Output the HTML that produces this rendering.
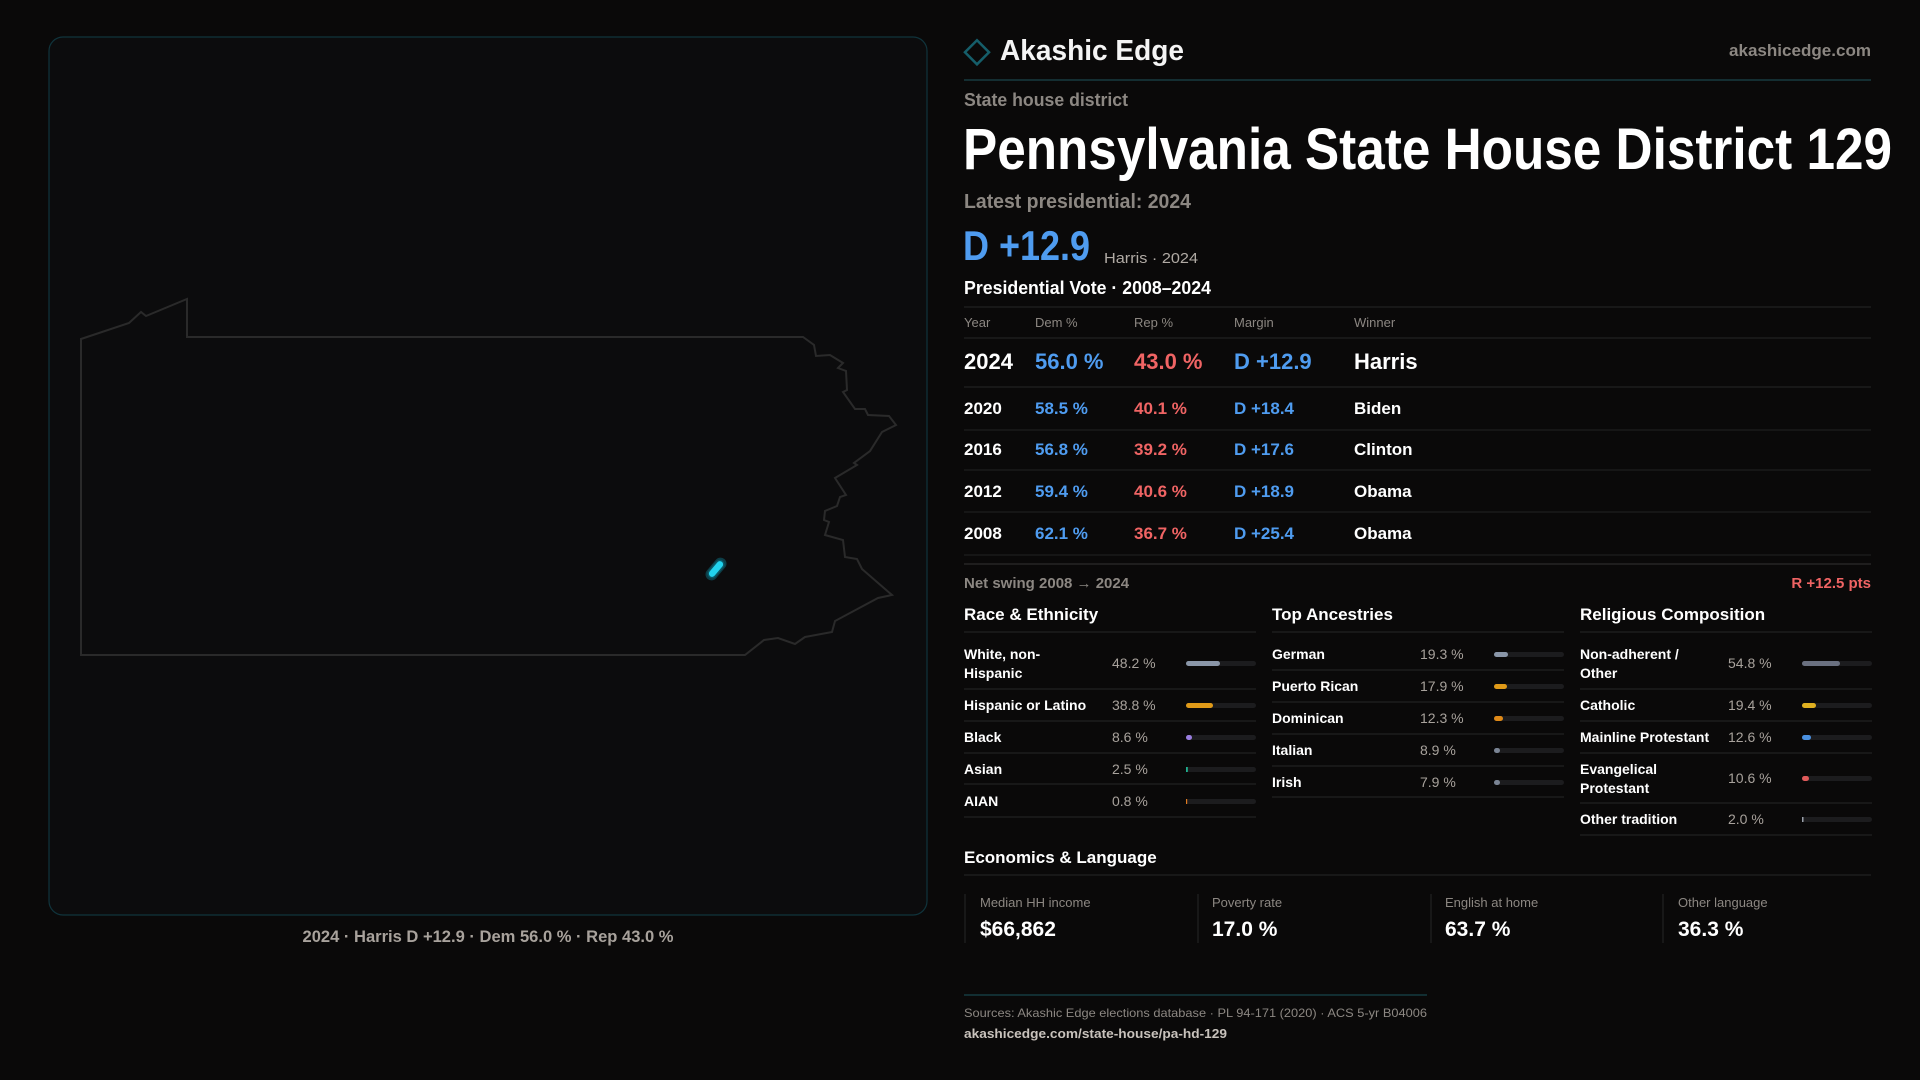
<!DOCTYPE html>
<html><head><meta charset="utf-8"><style>
html,body{margin:0;padding:0;background:#0a0909;}
svg{display:block}
text{font-family:"Liberation Sans",sans-serif;}
</style></head><body>
<svg width="1920" height="1080" viewBox="0 0 1920 1080" xmlns="http://www.w3.org/2000/svg">
<rect width="1920" height="1080" fill="#0a0909"/>
<rect x="49" y="37" width="878" height="878" rx="14" fill="#0c0c0d" stroke="#10343c" stroke-width="1.2"/>
<polygon fill="none" stroke="#2a2a2a" stroke-width="2" points="81,339 129,323 141,312 146,316 187,299 187,337 803,337 814,345 816,356 830,355 843,363 838,368 846,371 847,390 843,392 855,409 865,409 868,415 889,416 896,425 882,432 870,451 854,463 857,465 835,478 846,495 840,497 837,506 825,511 824,520 829,522 825,535 843,540 845,557 857,559 862,569 892,595 878,598 835,621 832,632 805,637 795,644 778,638 764,640 745,655 81,655"/>
<g transform="translate(716,569) rotate(-50)">
<rect x="-13" y="-6" width="26" height="12" rx="6" fill="#0e4a55" opacity="0.8"/>
<rect x="-10" y="-4" width="20" height="8" rx="4" fill="#22d3ee" stroke="#0b5866" stroke-width="1.5"/>
</g>
<text x="488" y="942" text-anchor="middle" font-size="17" font-weight="bold" fill="#a8a29c" textLength="371" lengthAdjust="spacingAndGlyphs">2024 · Harris D +12.9 · Dem 56.0 % · Rep 43.0 %</text>

<rect x="968" y="44" width="17" height="17" fill="none" stroke="#155e6a" stroke-width="2.5" transform="rotate(45 977 53)"/>
<text x="1000" y="60" font-size="29" font-weight="bold" fill="#f4f4f4" textLength="184" lengthAdjust="spacingAndGlyphs">Akashic Edge</text>
<text x="1871" y="56" text-anchor="end" font-size="17" font-weight="bold" fill="#8c8782" textLength="142" lengthAdjust="spacingAndGlyphs">akashicedge.com</text>
<line x1="964" y1="80" x2="1871" y2="80" stroke="#183a40" stroke-width="1.5"/>
<text x="964" y="106" font-size="18" font-weight="bold" fill="#8c8782" textLength="164" lengthAdjust="spacingAndGlyphs">State house district</text>
<text x="963" y="169" font-size="58" font-weight="bold" fill="#ffffff" textLength="929" lengthAdjust="spacingAndGlyphs">Pennsylvania State House District 129</text>
<text x="964" y="208" font-size="20" font-weight="bold" fill="#8c8782" textLength="227" lengthAdjust="spacingAndGlyphs">Latest presidential: 2024</text>
<text x="963" y="260" font-size="42" font-weight="bold" fill="#4f9cf0" textLength="127" lengthAdjust="spacingAndGlyphs">D +12.9</text>
<text x="1104" y="263" font-size="15" fill="#b0aaa4" textLength="94" lengthAdjust="spacingAndGlyphs">Harris · 2024</text>
<text x="964" y="294" font-size="18" font-weight="bold" fill="#ffffff" textLength="247" lengthAdjust="spacingAndGlyphs">Presidential Vote · 2008–2024</text>
<line x1="964" y1="307" x2="1871" y2="307" stroke="#1d1d1d" stroke-width="1.5"/>
<g font-size="13" fill="#8c8782">
<text x="964" y="327">Year</text><text x="1035" y="327">Dem %</text><text x="1134" y="327">Rep %</text><text x="1234" y="327">Margin</text><text x="1354" y="327">Winner</text>
</g>
<line x1="964" y1="338" x2="1871" y2="338" stroke="#1d1d1d" stroke-width="1.5"/>
<g font-size="22" font-weight="bold">
<text x="964" y="369" fill="#fff">2024</text><text x="1035" y="369" fill="#4f9cf0">56.0 %</text><text x="1134" y="369" fill="#f06464">43.0 %</text><text x="1234" y="369" fill="#4f9cf0">D +12.9</text><text x="1354" y="369" fill="#fff">Harris</text>
</g>
<line x1="964" y1="387" x2="1871" y2="387" stroke="#1d1d1d" stroke-width="1.5"/>
<g font-size="17" font-weight="bold">
<text x="964" y="414" fill="#fff">2020</text><text x="1035" y="414" fill="#4f9cf0">58.5 %</text><text x="1134" y="414" fill="#f06464">40.1 %</text><text x="1234" y="414" fill="#4f9cf0">D +18.4</text><text x="1354" y="414" fill="#fff">Biden</text>
<text x="964" y="455" fill="#fff">2016</text><text x="1035" y="455" fill="#4f9cf0">56.8 %</text><text x="1134" y="455" fill="#f06464">39.2 %</text><text x="1234" y="455" fill="#4f9cf0">D +17.6</text><text x="1354" y="455" fill="#fff">Clinton</text>
<text x="964" y="497" fill="#fff">2012</text><text x="1035" y="497" fill="#4f9cf0">59.4 %</text><text x="1134" y="497" fill="#f06464">40.6 %</text><text x="1234" y="497" fill="#4f9cf0">D +18.9</text><text x="1354" y="497" fill="#fff">Obama</text>
<text x="964" y="539" fill="#fff">2008</text><text x="1035" y="539" fill="#4f9cf0">62.1 %</text><text x="1134" y="539" fill="#f06464">36.7 %</text><text x="1234" y="539" fill="#4f9cf0">D +25.4</text><text x="1354" y="539" fill="#fff">Obama</text>
</g>
<g stroke="#1a1a1a" stroke-width="1.5">
<line x1="964" y1="430" x2="1871" y2="430"/><line x1="964" y1="470" x2="1871" y2="470"/><line x1="964" y1="512" x2="1871" y2="512"/><line x1="964" y1="555" x2="1871" y2="555"/>
</g>
<line x1="964" y1="564" x2="1871" y2="564" stroke="#262626" stroke-width="1.5"/>
<text x="964" y="588" font-size="15" font-weight="bold" fill="#8c8782">Net swing 2008 → 2024</text>
<text x="1871" y="588" text-anchor="end" font-size="15" font-weight="bold" fill="#f06464">R +12.5 pts</text>

<g font-size="17" font-weight="bold" fill="#fff">
<text x="964" y="620">Race &amp; Ethnicity</text>
<text x="1272" y="620">Top Ancestries</text>
<text x="1580" y="620">Religious Composition</text>
</g>
<g stroke="#1d1d1d" stroke-width="1.5">
<line x1="964" y1="632" x2="1256" y2="632"/><line x1="1272" y1="632" x2="1564" y2="632"/><line x1="1580" y1="632" x2="1872" y2="632"/>
<line x1="964" y1="689" x2="1256" y2="689"/><line x1="964" y1="721" x2="1256" y2="721"/><line x1="964" y1="753" x2="1256" y2="753"/><line x1="964" y1="784" x2="1256" y2="784"/><line x1="964" y1="817" x2="1256" y2="817"/>
<line x1="1272" y1="670" x2="1564" y2="670"/><line x1="1272" y1="702" x2="1564" y2="702"/><line x1="1272" y1="734" x2="1564" y2="734"/><line x1="1272" y1="766" x2="1564" y2="766"/><line x1="1272" y1="797" x2="1564" y2="797"/>
<line x1="1580" y1="689" x2="1872" y2="689"/><line x1="1580" y1="721" x2="1872" y2="721"/><line x1="1580" y1="753" x2="1872" y2="753"/><line x1="1580" y1="803" x2="1872" y2="803"/><line x1="1580" y1="835" x2="1872" y2="835"/>
</g>
<g font-size="14" font-weight="bold" fill="#fff">
<text x="964" y="659">White, non-</text><text x="964" y="678">Hispanic</text>
<text x="964" y="710">Hispanic or Latino</text><text x="964" y="742">Black</text><text x="964" y="774">Asian</text><text x="964" y="806">AIAN</text>
<text x="1272" y="659">German</text><text x="1272" y="691">Puerto Rican</text><text x="1272" y="723">Dominican</text><text x="1272" y="755">Italian</text><text x="1272" y="787">Irish</text>
<text x="1580" y="659">Non-adherent /</text><text x="1580" y="678">Other</text>
<text x="1580" y="710">Catholic</text><text x="1580" y="742">Mainline Protestant</text>
<text x="1580" y="774">Evangelical</text><text x="1580" y="793">Protestant</text>
<text x="1580" y="824">Other tradition</text>
</g>
<g font-size="14" fill="#a8a29c">
<text x="1112" y="668">48.2 %</text><text x="1112" y="710">38.8 %</text><text x="1112" y="742">8.6 %</text><text x="1112" y="774">2.5 %</text><text x="1112" y="806">0.8 %</text>
<text x="1420" y="659">19.3 %</text><text x="1420" y="691">17.9 %</text><text x="1420" y="723">12.3 %</text><text x="1420" y="755">8.9 %</text><text x="1420" y="787">7.9 %</text>
<text x="1728" y="668">54.8 %</text><text x="1728" y="710">19.4 %</text><text x="1728" y="742">12.6 %</text><text x="1728" y="783">10.6 %</text><text x="1728" y="824">2.0 %</text>
</g>
<g fill="#1c1c1e">
<rect x="1186" y="661" width="70" height="5" rx="2.5"/><rect x="1186" y="703" width="70" height="5" rx="2.5"/><rect x="1186" y="735" width="70" height="5" rx="2.5"/><rect x="1186" y="767" width="70" height="5" rx="2.5"/><rect x="1186" y="799" width="70" height="5" rx="2.5"/>
<rect x="1494" y="652" width="70" height="5" rx="2.5"/><rect x="1494" y="684" width="70" height="5" rx="2.5"/><rect x="1494" y="716" width="70" height="5" rx="2.5"/><rect x="1494" y="748" width="70" height="5" rx="2.5"/><rect x="1494" y="780" width="70" height="5" rx="2.5"/>
<rect x="1802" y="661" width="70" height="5" rx="2.5"/><rect x="1802" y="703" width="70" height="5" rx="2.5"/><rect x="1802" y="735" width="70" height="5" rx="2.5"/><rect x="1802" y="776" width="70" height="5" rx="2.5"/><rect x="1802" y="817" width="70" height="5" rx="2.5"/>
</g>
<rect x="1186" y="661" width="34" height="5" rx="2.5" fill="#8a96a8"/>
<rect x="1186" y="703" width="27" height="5" rx="2.5" fill="#e09a18"/>
<rect x="1186" y="735" width="6" height="5" rx="2.5" fill="#9a7ee0"/>
<rect x="1186" y="767" width="1.8" height="5" fill="#20b090"/>
<rect x="1186" y="799" width="1.2" height="5" fill="#e07a20"/>
<rect x="1494" y="652" width="14" height="5" rx="2.5" fill="#8a96a8"/>
<rect x="1494" y="684" width="13" height="5" rx="2.5" fill="#e09a18"/>
<rect x="1494" y="716" width="9" height="5" rx="2.5" fill="#e08a18"/>
<rect x="1494" y="748" width="6" height="5" rx="2.5" fill="#7a8494"/>
<rect x="1494" y="780" width="6" height="5" rx="2.5" fill="#7a8494"/>
<rect x="1802" y="661" width="38" height="5" rx="2.5" fill="#6a7080"/>
<rect x="1802" y="703" width="14" height="5" rx="2.5" fill="#e0b020"/>
<rect x="1802" y="735" width="9" height="5" rx="2.5" fill="#4a90e0"/>
<rect x="1802" y="776" width="7" height="5" rx="2.5" fill="#e05a5a"/>
<rect x="1802" y="817" width="1.5" height="5" fill="#9aa0aa"/>

<text x="964" y="863" font-size="17" font-weight="bold" fill="#fff">Economics &amp; Language</text>
<line x1="964" y1="875" x2="1871" y2="875" stroke="#1d1d1d" stroke-width="1.5"/>
<g stroke="#1d1d1d" stroke-width="1.5">
<line x1="965" y1="894" x2="965" y2="943"/><line x1="1198" y1="894" x2="1198" y2="943"/><line x1="1431" y1="894" x2="1431" y2="943"/><line x1="1663" y1="894" x2="1663" y2="943"/>
</g>
<g font-size="13" fill="#8c8782">
<text x="980" y="907">Median HH income</text><text x="1212" y="907">Poverty rate</text><text x="1445" y="907">English at home</text><text x="1678" y="907">Other language</text>
</g>
<g font-size="21" font-weight="bold" fill="#fff">
<text x="980" y="936">$66,862</text><text x="1212" y="936">17.0 %</text><text x="1445" y="936">63.7 %</text><text x="1678" y="936">36.3 %</text>
</g>
<line x1="964" y1="995" x2="1427" y2="995" stroke="#143a40" stroke-width="1.5"/>
<text x="964" y="1017" font-size="12" fill="#8c8782" textLength="463" lengthAdjust="spacingAndGlyphs">Sources: Akashic Edge elections database · PL 94-171 (2020) · ACS 5-yr B04006</text>
<text x="964" y="1038" font-size="13" font-weight="bold" fill="#c8c2bc" textLength="263" lengthAdjust="spacingAndGlyphs">akashicedge.com/state-house/pa-hd-129</text>
</svg>
</body></html>
